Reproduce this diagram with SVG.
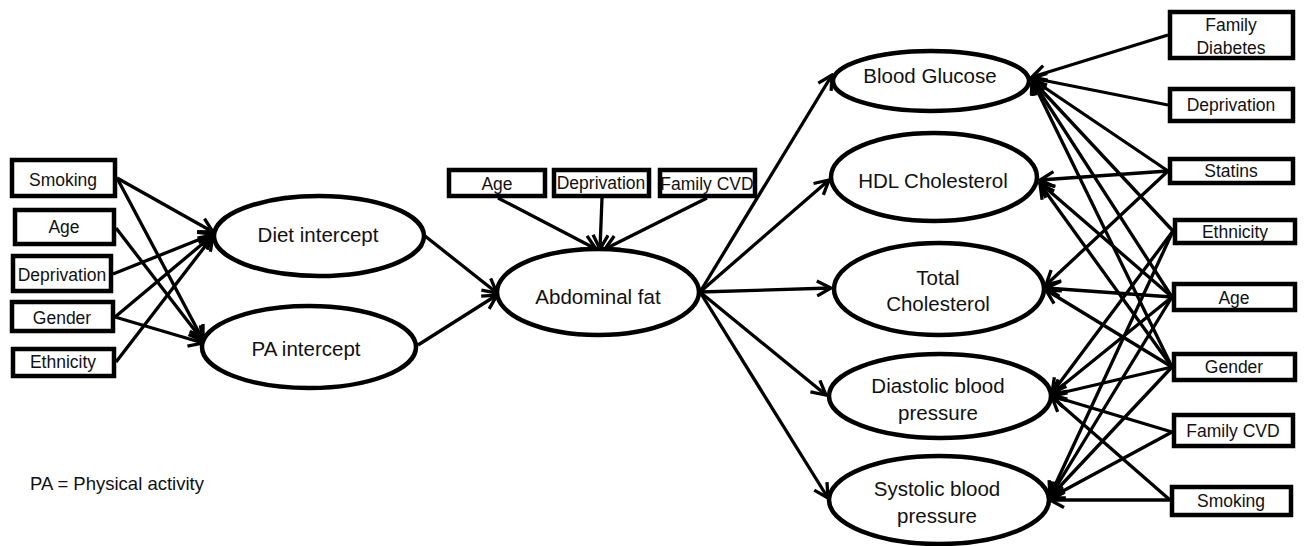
<svg xmlns="http://www.w3.org/2000/svg" width="1306" height="546" viewBox="0 0 1306 546">
<style>
.box{fill:#fff;stroke:#000;stroke-width:4.5}
.ell{fill:#fff;stroke:#000;stroke-width:4.5}
.t{font-family:"Liberation Sans",Arial,sans-serif;font-size:17.5px;fill:#111;text-anchor:middle;dominant-baseline:central}
.te{font-family:"Liberation Sans",Arial,sans-serif;font-size:20.5px;fill:#111;text-anchor:middle;dominant-baseline:central}
.note{font-family:"Liberation Sans",Arial,sans-serif;font-size:18.5px;fill:#111}
.c line{stroke:#000;stroke-width:3.3;marker-end:url(#arr)}
</style>
<defs>
<marker id="arr" viewBox="0 0 18 18" refX="16" refY="9" markerWidth="18" markerHeight="18" markerUnits="userSpaceOnUse" orient="auto">
<path d="M2,1.5 L16,9 L2,16.5" fill="none" stroke="#000" stroke-width="3.3"/>
</marker>
</defs>
<rect width="1306" height="546" fill="#fff"/>

<g class="c" id="connectors">
<line x1="117" y1="178" x2="213" y2="232"/>
<line x1="117" y1="178" x2="203" y2="340"/>
<line x1="116" y1="228" x2="203" y2="341"/>
<line x1="113" y1="274" x2="213" y2="234"/>
<line x1="115" y1="317" x2="213" y2="235"/>
<line x1="115" y1="317" x2="203" y2="343"/>
<line x1="116" y1="362" x2="213" y2="236"/>
<line x1="425" y1="236" x2="497" y2="293"/>
<line x1="418" y1="345" x2="497" y2="295"/>
<line x1="498" y1="198" x2="596" y2="249"/>
<line x1="602" y1="198" x2="600" y2="249"/>
<line x1="707" y1="198" x2="605" y2="249"/>
<line x1="700" y1="292" x2="832" y2="75"/>
<line x1="700" y1="292" x2="829" y2="180"/>
<line x1="700" y1="292" x2="831" y2="288"/>
<line x1="700" y1="292" x2="826" y2="395"/>
<line x1="700" y1="292" x2="828" y2="498"/>
<line x1="1168" y1="35" x2="1032" y2="77"/>
<line x1="1168" y1="105" x2="1032" y2="78"/>
<line x1="1168" y1="171" x2="1032" y2="79"/>
<line x1="1173" y1="231" x2="1032" y2="80"/>
<line x1="1172" y1="297" x2="1032" y2="80"/>
<line x1="1172" y1="367" x2="1032" y2="80"/>
<line x1="1168" y1="171" x2="1040" y2="180"/>
<line x1="1172" y1="297" x2="1040" y2="183"/>
<line x1="1172" y1="367" x2="1040" y2="184"/>
<line x1="1168" y1="171" x2="1046" y2="285"/>
<line x1="1172" y1="297" x2="1046" y2="288"/>
<line x1="1172" y1="367" x2="1046" y2="290"/>
<line x1="1173" y1="231" x2="1052" y2="393"/>
<line x1="1172" y1="297" x2="1052" y2="394"/>
<line x1="1172" y1="367" x2="1052" y2="395"/>
<line x1="1172" y1="432" x2="1052" y2="396"/>
<line x1="1170" y1="500" x2="1052" y2="397"/>
<line x1="1173" y1="231" x2="1050" y2="496"/>
<line x1="1172" y1="297" x2="1050" y2="497"/>
<line x1="1172" y1="367" x2="1050" y2="497"/>
<line x1="1172" y1="432" x2="1050" y2="498"/>
<line x1="1170" y1="500" x2="1050" y2="500"/>
</g>

<g id="smoking-l"><rect class="box" x="12" y="160" width="103" height="36"/><text class="t" x="63" y="180">Smoking</text></g>
<g id="age-l"><rect class="box" x="15" y="210" width="99" height="34"/><text class="t" x="64" y="227">Age</text></g>
<g id="deprivation-l"><rect class="box" x="13" y="256" width="98" height="35"/><text class="t" x="62" y="275">Deprivation</text></g>
<g id="gender-l"><rect class="box" x="12" y="302" width="101" height="29"/><text class="t" x="62" y="318">Gender</text></g>
<g id="ethnicity-l"><rect class="box" x="13" y="349" width="101" height="27"/><text class="t" x="63" y="362">Ethnicity</text></g>

<g id="diet"><ellipse class="ell" cx="319" cy="236" rx="105" ry="40"/><text class="te" x="318" y="234">Diet intercept</text></g>
<g id="pa"><ellipse class="ell" cx="309" cy="347" rx="107" ry="41"/><text class="te" x="306" y="348">PA intercept</text></g>

<g id="age-t"><rect class="box" x="449" y="170" width="96" height="26"/><text class="t" x="497" y="184">Age</text></g>
<g id="deprivation-t"><rect class="box" x="554" y="170" width="95" height="26"/><text class="t" x="601" y="183">Deprivation</text></g>
<g id="familycvd-t"><rect class="box" x="660" y="170" width="95" height="26"/><text class="t" x="707" y="184">Family CVD</text></g>

<g id="abdominal"><ellipse class="ell" cx="598" cy="292" rx="101" ry="43"/><text class="te" x="598" y="296">Abdominal fat</text></g>

<g id="glucose"><ellipse class="ell" cx="931" cy="81" rx="98" ry="30"/><text class="te" x="930" y="75">Blood Glucose</text></g>
<g id="hdl"><ellipse class="ell" cx="934" cy="177" rx="103" ry="44"/><text class="te" x="933" y="180">HDL Cholesterol</text></g>
<g id="total"><ellipse class="ell" cx="939" cy="289" rx="105" ry="46"/><text class="te" x="938" y="277">Total</text><text class="te" x="938" y="303">Cholesterol</text></g>
<g id="diastolic"><ellipse class="ell" cx="940" cy="396" rx="111" ry="42"/><text class="te" x="938" y="385">Diastolic blood</text><text class="te" x="938" y="412">pressure</text></g>
<g id="systolic"><ellipse class="ell" cx="939" cy="500" rx="110" ry="44"/><text class="te" x="937" y="488">Systolic blood</text><text class="te" x="937" y="515">pressure</text></g>

<g id="familydiabetes-r"><rect class="box" x="1170" y="12" width="123" height="46"/><text class="t" x="1231" y="25">Family</text><text class="t" x="1231" y="48">Diabetes</text></g>
<g id="deprivation-r"><rect class="box" x="1170" y="89" width="123" height="32"/><text class="t" x="1231" y="105">Deprivation</text></g>
<g id="statins-r"><rect class="box" x="1170" y="159" width="123" height="24"/><text class="t" x="1231" y="171">Statins</text></g>
<g id="ethnicity-r"><rect class="box" x="1175" y="220" width="120" height="23"/><text class="t" x="1235" y="232">Ethnicity</text></g>
<g id="age-r"><rect class="box" x="1174" y="284" width="121" height="26"/><text class="t" x="1234" y="298">Age</text></g>
<g id="gender-r"><rect class="box" x="1174" y="354" width="121" height="26"/><text class="t" x="1234" y="367">Gender</text></g>
<g id="familycvd-r"><rect class="box" x="1174" y="415" width="119" height="31"/><text class="t" x="1233" y="431">Family CVD</text></g>
<g id="smoking-r"><rect class="box" x="1172" y="487" width="119" height="28"/><text class="t" x="1231" y="501">Smoking</text></g>

<text class="note" x="30" y="490">PA = Physical activity</text>
</svg>
